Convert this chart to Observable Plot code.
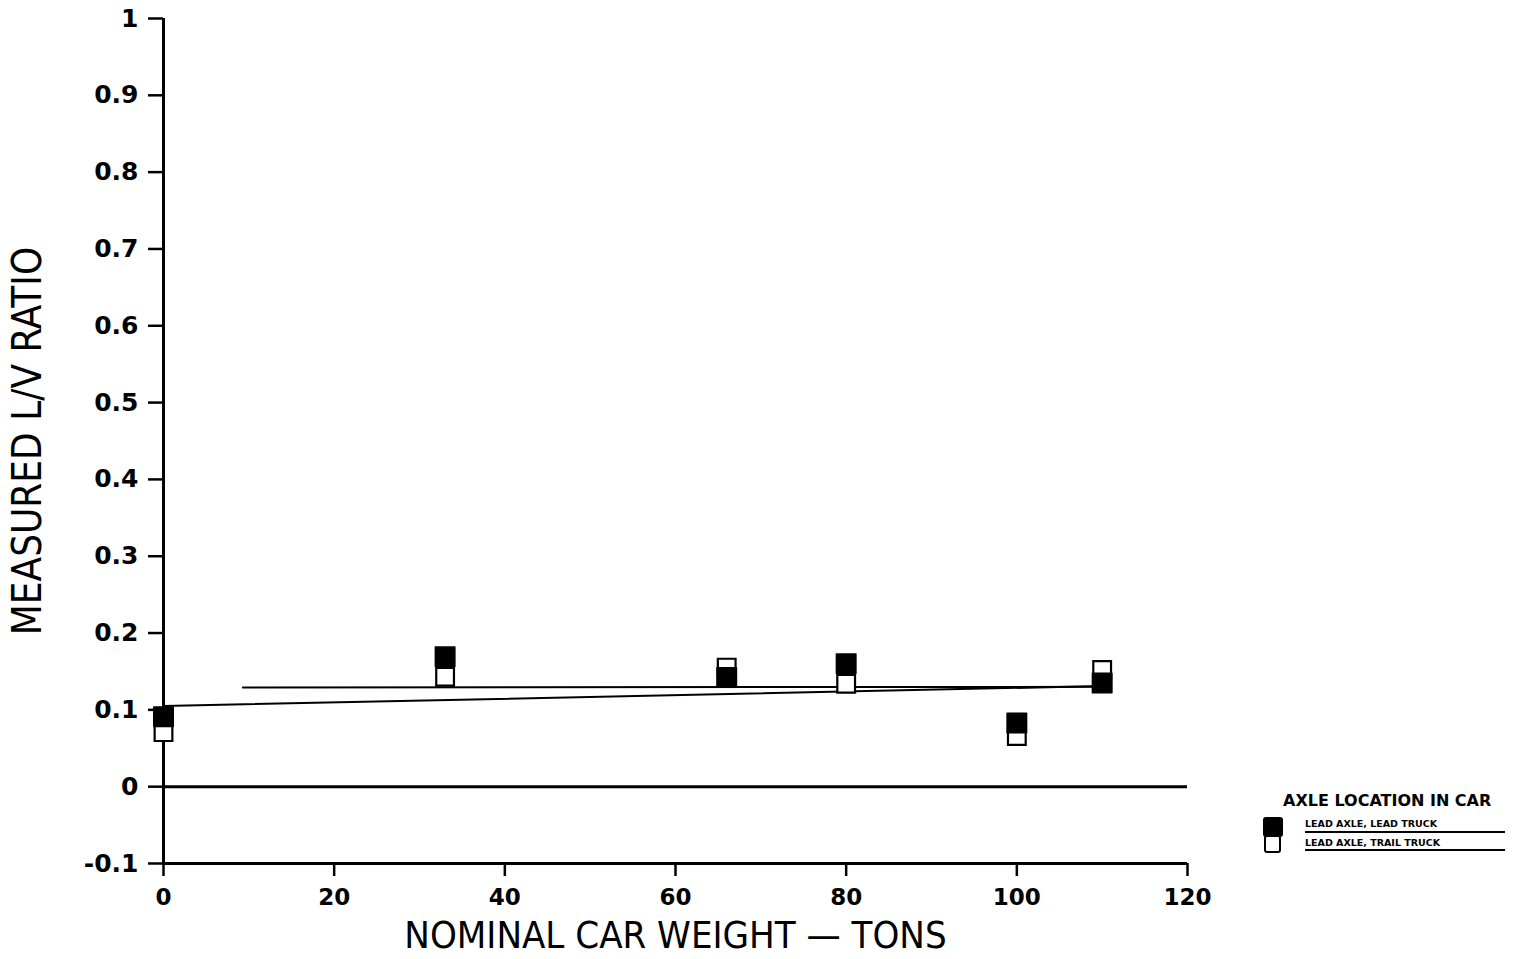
<!DOCTYPE html>
<html><head><meta charset="utf-8">
<script src="https://cdn.jsdelivr.net/npm/d3@7"></script>
<script src="https://cdn.jsdelivr.net/npm/@observablehq/plot@0.6"></script>
<style>
body{margin:0;background:#fff;}
#wrap{position:relative;width:1513px;height:959px;overflow:hidden;}
#wrap svg{position:absolute;left:0;top:0;}
.lg{position:absolute;font-family:"DejaVu Sans",sans-serif;color:#000;font-weight:bold;white-space:nowrap;}
.sw{position:absolute;box-sizing:border-box;border-radius:3px;}
.ul{position:absolute;height:2px;background:#000;}
</style></head><body><div id="wrap"></div>
<script>
// Data
const weights = [0, 33, 66, 80, 100, 110];               // nominal car weight, tons
const leadTruck = [0.091, 0.169, 0.142, 0.160, 0.083, 0.135];  // lead axle, lead truck (filled)
const trailTruck = [0.071, 0.143, 0.155, 0.134, 0.066, 0.152]; // lead axle, trail truck (open)
const fitAX = [0, 110];   const fitAY = [0.105, 0.131];
const fitBX = [9.3, 110]; const fitBY = [0.129, 0.130];
const xTicks = [0, 20, 40, 60, 80, 100, 120];
const yTicks = [-0.1, 0, 0.1, 0.2, 0.3, 0.4, 0.5, 0.6, 0.7, 0.8, 0.9, 1];
const xLabel = "NOMINAL CAR WEIGHT — TONS";
const yLabel = "MEASURED L/V RATIO";
const legendTitle = "AXLE LOCATION IN CAR";
const seriesNames = ["LEAD AXLE, LEAD TRUCK", "LEAD AXLE, TRAIL TRUCK"];

const lead = weights.map((w, i) => ({x: w, y: leadTruck[i]}));
const trail = weights.map((w, i) => ({x: w, y: trailTruck[i]}));
const fitA = fitAX.map((x, i) => ({x, y: fitAY[i]}));
const fitB = fitBX.map((x, i) => ({x, y: fitBY[i]}));

const fmtY = d => d === 1 ? "1" : d === 0 ? "0" : d.toFixed(1);
const labelFont = "'DejaVu Sans Condensed','Liberation Sans Narrow','DejaVu Sans',sans-serif";

const chart = Plot.plot({
  width: 1513, height: 959,
  marginTop: 18, marginBottom: 96, marginLeft: 163, marginRight: 326,
  style: {fontFamily: "'DejaVu Sans',sans-serif", background: "white", color: "black", overflow: "visible"},
  x: {domain: [0, 120]},
  y: {domain: [-0.1, 1]},
  marks: [
    Plot.axisX({ticks: xTicks, tickSize: 13, tickPadding: 12, strokeWidth: 2.5, label: null, fontSize: 23, fontWeight: "bold"}),
    Plot.axisY({ticks: yTicks, tickSize: 15, tickPadding: 10, strokeWidth: 2.5, tickFormat: fmtY, label: null, fontSize: 25, fontWeight: "bold"}),
    Plot.ruleX([0], {y1: -0.1, y2: 1, strokeWidth: 3}),
    Plot.ruleY([-0.1], {x1: 0, x2: 120, strokeWidth: 3}),
    Plot.ruleY([0], {x1: 0, x2: 120, strokeWidth: 3}),
    Plot.line(fitA, {x: "x", y: "y", strokeWidth: 2}),
    Plot.line(fitB, {x: "x", y: "y", strokeWidth: 2}),
    Plot.dot(trail, {x: "x", y: "y", symbol: "square", r: 10, fill: "white", stroke: "black", strokeWidth: 2.2}),
    Plot.dot(lead, {x: "x", y: "y", symbol: "square", r: 11, fill: "black", stroke: "black", strokeWidth: 1.5, strokeLinejoin: "round"}),
    Plot.text([xLabel], {frameAnchor: "bottom", dy: 72, fontSize: 38, fontFamily: labelFont, lineAnchor: "middle", textAnchor: "middle", fill: "black"}),
    Plot.text([yLabel], {frameAnchor: "left", dx: -135, rotate: -90, fontSize: 40, fontFamily: labelFont, lineAnchor: "middle", textAnchor: "middle", fill: "black"})
  ]
});
const wrap = document.getElementById("wrap");
wrap.appendChild(chart);

// Legend (outside the plot area, on the right)
function el(cls, style, text) {
  const d = document.createElement("div");
  d.className = cls;
  Object.assign(d.style, style);
  if (text) d.textContent = text;
  wrap.appendChild(d);
  return d;
}
el("lg", {left: "1283px", top: "791px", fontSize: "16px", fontWeight: "900"}, legendTitle);
el("sw", {left: "1264px", top: "835px", width: "17px", height: "18px", background: "#fff", border: "2px solid #000"});
el("sw", {left: "1263px", top: "817px", width: "20px", height: "20px", background: "#000"});
el("lg", {left: "1305px", top: "818px", fontSize: "9.5px"}, seriesNames[0]);
el("lg", {left: "1305px", top: "837px", fontSize: "9.5px"}, seriesNames[1]);
el("ul", {left: "1305px", top: "831px", width: "200px"});
el("ul", {left: "1305px", top: "849px", width: "200px"});
</script></body></html>
